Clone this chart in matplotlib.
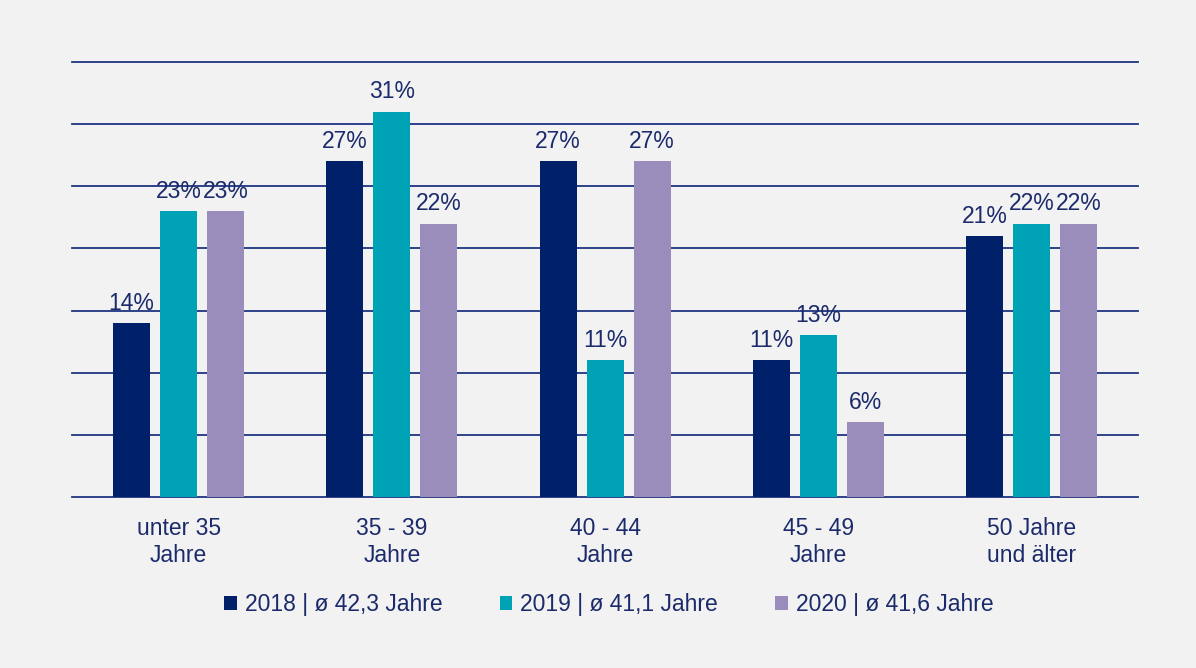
import matplotlib
matplotlib.use("Agg")
import matplotlib.pyplot as plt
import numpy as np

categories = ["unter 35\nJahre", "35 - 39\nJahre", "40 - 44\nJahre", "45 - 49\nJahre", "50 Jahre\nund älter"]
series_names = ["2018 | ø 42,3 Jahre", "2019 | ø 41,1 Jahre", "2020 | ø 41,6 Jahre"]
values_2018 = [14, 27, 27, 11, 21]
values_2019 = [23, 31, 11, 13, 22]
values_2020 = [23, 22, 27, 6, 22]
colors = ["#002169", "#00A3B5", "#9A8DBB"]

text_color = "#1B2A6B"
grid_color = "#1F3480"
bg = "#F2F2F2"

plt.rcParams['font.family'] = ['Liberation Sans', 'DejaVu Sans']
FS = 16.5

fig = plt.figure(figsize=(11.96, 6.68), dpi=100, facecolor=bg)
ax = fig.add_axes([72/1196, 171/668, 1066/1196, 435/668])
ax.set_facecolor(bg)

x = np.arange(len(categories))
width = 37/213.2
step = 47/213.2
all_vals = [values_2018, values_2019, values_2020]
for i, (vals, name, c) in enumerate(zip(all_vals, series_names, colors)):
    pos = x + (i - 1) * step
    ax.bar(pos, vals, width=width, color=c, label=name, zorder=3)
    for xp, v in zip(pos, vals):
        ax.annotate(f"{v}%", (xp, v), xytext=(0, 6), textcoords="offset points",
                    ha="center", va="bottom", fontsize=FS, color=text_color, zorder=4)

ax.set_xlim(-0.5, 4.5)
ax.set_ylim(0, 35)
for yv in np.arange(0, 36, 5):
    ax.axhline(yv, color=grid_color, linewidth=1.3, zorder=1, clip_on=False)
ax.set_yticks([])
ax.tick_params(axis='x', bottom=False, labelsize=FS, labelcolor=text_color, pad=11)
ax.set_xticks(x)
ax.set_xticklabels(categories, linespacing=1.2)
for s in ax.spines.values():
    s.set_visible(False)

fig.legend(loc="center", bbox_to_anchor=(609/1196, 1 - 605/668), ncol=3, frameon=False,
           fontsize=FS, labelcolor=text_color, handlelength=0.55, handleheight=0.55,
           handletextpad=0.35, columnspacing=2.5)

fig.savefig("out.png", dpi=100, facecolor=bg)
